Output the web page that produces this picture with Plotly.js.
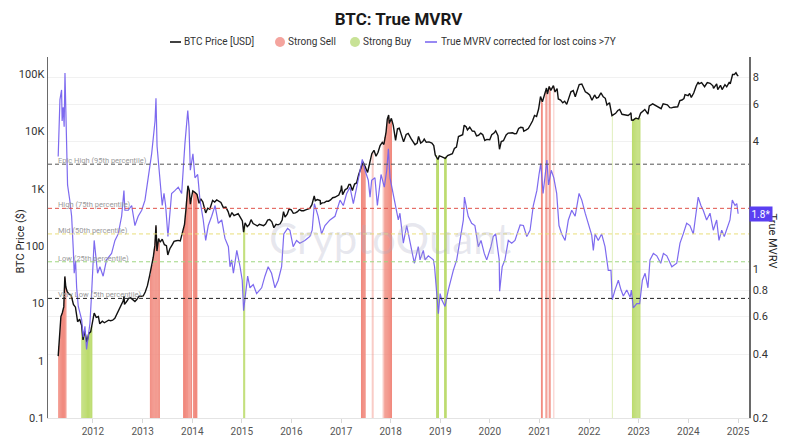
<!DOCTYPE html>
<html>
<head>
<meta charset="utf-8">
<script src="https://cdn.plot.ly/plotly-3.0.1.min.js"></script>
<style>
html,body{margin:0;padding:0;background:#fff;}
#chart{width:800px;height:438px;}
</style>
</head>
<body>
<div id="chart"></div>
<script>
// ---------------- DATA ----------------
const priceDates = ['2011-04-20','2011-05-01','2011-05-10','2011-05-20','2011-05-31','2011-06-08','2011-06-15','2011-06-25','2011-07-10','2011-07-25','2011-08-10','2011-08-25','2011-09-10','2011-09-25','2011-10-10','2011-10-20','2011-11-01','2011-11-18','2011-12-01','2011-12-15','2011-12-31',
'2012-01-10','2012-01-25','2012-02-10','2012-02-20','2012-03-10','2012-03-25','2012-04-10','2012-04-25','2012-05-10','2012-05-25','2012-06-10','2012-06-25','2012-07-10','2012-07-25','2012-08-10','2012-08-17','2012-08-20','2012-09-05','2012-09-20','2012-10-05','2012-10-20','2012-11-05','2012-11-20','2012-12-05','2012-12-20',
'2013-01-05','2013-01-20','2013-02-05','2013-02-20','2013-03-05','2013-03-20','2013-04-01','2013-04-09','2013-04-16','2013-04-28','2013-05-10','2013-05-25','2013-06-10','2013-06-25','2013-07-05','2013-07-20','2013-08-05','2013-08-20','2013-09-05','2013-09-20','2013-10-05','2013-10-20','2013-11-05','2013-11-15','2013-11-30','2013-12-10','2013-12-18','2013-12-25',
'2014-01-05','2014-01-20','2014-02-05','2014-02-20','2014-03-05','2014-03-20','2014-04-10','2014-04-25','2014-05-10','2014-05-31','2014-06-15','2014-06-30','2014-07-15','2014-07-31','2014-08-18','2014-09-05','2014-09-22','2014-10-05','2014-10-20','2014-11-05','2014-11-20','2014-12-05','2014-12-20',
'2015-01-05','2015-01-14','2015-01-25','2015-02-10','2015-02-25','2015-03-10','2015-03-25','2015-04-10','2015-04-25','2015-05-10','2015-05-25','2015-06-10','2015-06-25','2015-07-10','2015-07-25','2015-08-10','2015-08-25','2015-09-10','2015-09-25','2015-10-10','2015-10-25','2015-11-04','2015-11-15','2015-12-01','2015-12-15','2015-12-31',
'2016-01-15','2016-01-31','2016-02-15','2016-02-29','2016-03-15','2016-03-31','2016-04-15','2016-04-30','2016-05-15','2016-05-31','2016-06-17','2016-06-25','2016-07-10','2016-07-31','2016-08-02','2016-08-15','2016-08-31','2016-09-15','2016-09-30','2016-10-15','2016-10-31','2016-11-15','2016-11-30','2016-12-15','2016-12-31',
'2017-01-04','2017-01-12','2017-01-31','2017-02-15','2017-02-28','2017-03-10','2017-03-25','2017-04-10','2017-04-25','2017-05-10','2017-05-25','2017-06-11','2017-06-25','2017-07-15','2017-07-31','2017-08-15','2017-08-31','2017-09-15','2017-09-30','2017-10-15','2017-10-31','2017-11-12','2017-11-28','2017-12-07','2017-12-17','2017-12-22',
'2018-01-06','2018-01-20','2018-02-06','2018-02-20','2018-03-05','2018-03-20','2018-04-06','2018-04-25','2018-05-10','2018-05-31','2018-06-15','2018-06-29','2018-07-15','2018-07-25','2018-08-10','2018-08-25','2018-09-05','2018-09-20','2018-10-10','2018-10-31','2018-11-14','2018-11-25','2018-12-15','2018-12-25',
'2019-01-10','2019-01-31','2019-02-07','2019-02-24','2019-03-15','2019-03-31','2019-04-15','2019-04-30','2019-05-15','2019-05-31','2019-06-15','2019-06-26','2019-07-10','2019-07-20','2019-08-06','2019-08-25','2019-09-10','2019-09-25','2019-10-10','2019-10-26','2019-11-10','2019-11-25','2019-12-10','2019-12-31',
'2020-01-15','2020-02-01','2020-02-13','2020-03-01','2020-03-12','2020-03-25','2020-04-10','2020-04-30','2020-05-15','2020-05-31','2020-06-15','2020-06-30','2020-07-15','2020-07-31','2020-08-15','2020-08-31','2020-09-07','2020-09-25','2020-10-10','2020-10-25','2020-11-10','2020-11-25','2020-12-10','2020-12-25',
'2021-01-08','2021-01-22','2021-02-08','2021-02-21','2021-02-28','2021-03-13','2021-03-25','2021-04-13','2021-04-25','2021-05-10','2021-05-19','2021-06-05','2021-06-21','2021-07-05','2021-07-20','2021-08-05','2021-08-20','2021-09-06','2021-09-21','2021-10-05','2021-10-20','2021-11-08','2021-11-20','2021-12-04','2021-12-20',
'2022-01-05','2022-01-22','2022-02-10','2022-02-24','2022-03-10','2022-03-29','2022-04-15','2022-04-30','2022-05-12','2022-05-31','2022-06-18','2022-06-30','2022-07-15','2022-07-31','2022-08-14','2022-08-31','2022-09-15','2022-09-30','2022-10-15','2022-10-31','2022-11-05','2022-11-09','2022-11-21','2022-12-10','2022-12-31',
'2023-01-15','2023-01-31','2023-02-15','2023-03-10','2023-03-20','2023-04-14','2023-04-30','2023-05-15','2023-06-15','2023-06-30','2023-07-15','2023-07-31','2023-08-18','2023-08-31','2023-09-15','2023-09-30','2023-10-15','2023-10-31','2023-11-15','2023-11-30','2023-12-08','2023-12-31',
'2024-01-11','2024-01-23','2024-02-10','2024-02-28','2024-03-14','2024-03-20','2024-04-08','2024-04-30','2024-05-20','2024-06-10','2024-06-30','2024-07-05','2024-07-28','2024-08-05','2024-08-25','2024-09-06','2024-09-27','2024-10-10','2024-10-29','2024-11-05','2024-11-22','2024-12-05','2024-12-17','2024-12-30','2025-01-02'];
const priceValues = [1.2,3.0,5.9,6.8,8.7,29.6,19.5,16,14.5,13.8,9.6,8.6,4.8,5.3,4.1,2.3,3.3,2.1,3.0,3.2,4.7,
6.8,5.7,5.9,4.4,4.9,4.6,4.9,5.1,5.0,5.1,5.5,6.5,7.4,8.8,11.0,13.5,9.6,10.8,12.3,12.5,11.7,10.8,11.8,13.4,13.3,
13.5,15.8,20.4,29.6,40,64,104,230,82,135,117,132,106,102,70,90,104,121,124,126,123,170,240,420,1130,940,540,680,
920,870,800,560,670,590,380,460,440,630,590,640,620,580,470,480,400,320,385,340,355,370,320,
275,175,255,220,238,290,248,236,225,240,237,228,243,285,290,265,210,240,235,245,285,400,320,360,445,430,
375,380,400,435,415,415,430,450,455,530,750,620,650,625,545,570,575,607,608,640,700,712,745,780,965,
1135,790,970,1010,1190,1190,935,1210,1265,1760,2300,2950,2500,1930,2850,4100,4700,3700,4340,5700,6450,5950,9800,16500,19400,13800,
17000,12800,7000,11200,11500,8600,6600,8900,9300,7500,6500,5900,6300,8200,6300,6700,7400,6500,6600,6300,5700,3900,3250,3750,
3650,3440,3400,3800,3950,4100,5050,5350,8200,8550,8800,12900,12100,10700,11900,10200,10100,8400,8600,9400,8800,7000,7300,7200,
8800,9400,10300,8500,4900,6700,6900,8700,9400,9450,9500,9150,9200,11300,11850,11700,10100,10700,11300,13000,15300,19100,18300,24700,
40700,33000,46400,57500,45200,61200,52300,63500,49000,56000,37000,35500,31700,33800,29800,40900,49300,51800,40600,51500,65900,67500,59700,49400,46700,
43500,35100,43500,38300,39400,47400,40500,38000,29000,31800,19000,19800,20800,23300,24300,20000,19700,19400,19100,20500,21300,15900,15800,17100,16550,
20900,23100,24300,20200,28000,30500,29200,27200,25100,30500,30300,29200,26100,25900,26600,26900,27100,34600,35500,37700,44200,42300,
46300,39500,47100,62400,73100,67900,71600,60600,71400,69500,62700,56700,68200,54000,64100,53900,65800,60300,72700,67800,98900,98800,106000,93500,96500];

const mvrvDates = ['2011-04-20','2011-05-03','2011-05-15','2011-05-19','2011-05-27','2011-06-03','2011-06-09','2011-06-21','2011-06-28','2011-07-15','2011-07-28','2011-08-09','2011-08-16','2011-08-26','2011-09-03','2011-09-15','2011-10-10','2011-10-21','2011-11-03','2011-11-15','2011-11-27','2011-12-10','2011-12-22',
'2012-01-03','2012-01-10','2012-01-20','2012-02-04','2012-02-21','2012-03-16','2012-04-10','2012-05-17','2012-06-11','2012-07-05','2012-07-30','2012-08-16','2012-08-23','2012-09-17','2012-10-12','2012-11-05','2012-11-29','2012-12-25',
'2013-01-18','2013-02-12','2013-03-08','2013-04-02','2013-04-09','2013-04-17','2013-05-01','2013-05-13','2013-05-25','2013-06-07','2013-06-19','2013-07-06','2013-07-20','2013-08-02','2013-08-26','2013-09-20','2013-10-15','2013-10-27','2013-11-08','2013-11-29','2013-12-08','2013-12-18',
'2014-01-06','2014-01-21','2014-02-10','2014-02-27','2014-03-23','2014-04-10','2014-04-29','2014-05-24','2014-06-18','2014-07-12','2014-08-06','2014-08-30','2014-09-24','2014-10-06','2014-10-18','2014-10-31','2014-11-25','2014-12-19',
'2015-01-04','2015-01-14','2015-01-29','2015-02-13','2015-03-02','2015-03-26','2015-04-20','2015-05-27','2015-06-20','2015-07-14','2015-08-08','2015-09-02','2015-09-26','2015-10-21','2015-11-06','2015-12-04','2015-12-21',
'2016-01-14','2016-02-08','2016-03-03','2016-04-09','2016-05-16','2016-06-02','2016-06-18','2016-07-16','2016-08-10','2016-09-04','2016-10-11','2016-11-17','2016-12-24',
'2017-01-17','2017-02-11','2017-03-07','2017-04-01','2017-04-26','2017-05-20','2017-06-06','2017-06-26','2017-07-20','2017-08-02','2017-08-14','2017-09-07','2017-09-25','2017-10-22','2017-11-15','2017-12-03','2017-12-15','2017-12-27',
'2018-01-20','2018-02-07','2018-02-26','2018-03-10','2018-04-04','2018-04-29','2018-05-23','2018-06-24','2018-07-23','2018-08-05','2018-08-29','2018-09-11','2018-10-05','2018-11-11','2018-11-20','2018-12-06','2018-12-18','2018-12-31',
'2019-01-12','2019-02-05','2019-03-01','2019-04-07','2019-05-02','2019-05-26','2019-06-20','2019-06-28','2019-07-26','2019-08-20','2019-09-13','2019-10-08','2019-10-28','2019-11-21','2019-12-09',
'2020-01-09','2020-01-26','2020-02-13','2020-03-03','2020-03-10','2020-03-13','2020-04-01','2020-04-21','2020-05-16','2020-06-10','2020-07-04','2020-08-11','2020-09-04','2020-09-29','2020-10-23','2020-11-16','2020-12-12','2020-12-28',
'2021-01-10','2021-01-27','2021-02-14','2021-02-24','2021-03-08','2021-03-28','2021-04-16','2021-05-07','2021-05-24','2021-06-13','2021-07-08','2021-08-01','2021-08-26','2021-09-20','2021-10-19','2021-11-08','2021-12-03','2021-12-27',
'2022-01-20','2022-02-01','2022-02-14','2022-03-09','2022-04-03','2022-04-28','2022-05-22','2022-06-11','2022-06-20','2022-07-10','2022-08-04','2022-08-24','2022-09-10','2022-10-05','2022-10-30','2022-11-08','2022-11-22','2022-12-18',
'2023-01-08','2023-01-28','2023-02-17','2023-03-10','2023-03-25','2023-04-19','2023-05-14','2023-06-12','2023-07-02','2023-07-27','2023-09-02','2023-10-08','2023-11-01','2023-11-25','2023-12-20',
'2024-01-13','2024-02-07','2024-02-24','2024-03-14','2024-04-03','2024-04-20','2024-05-15','2024-06-09','2024-07-03','2024-07-28','2024-08-14','2024-09-03','2024-09-22','2024-10-17','2024-11-03','2024-11-20','2024-12-10','2024-12-23','2025-01-02'];
const mvrvValues = [3.4,6.3,7.0,5.0,5.8,4.7,8.4,3.27,2.5,2.1,1.78,1.25,0.96,1.1,0.82,0.67,0.58,0.48,0.54,0.42,0.50,0.56,0.77,
1.03,1.37,1.19,0.96,1.03,0.93,1.11,1.19,1.37,1.47,1.78,2.35,1.90,1.90,2.0,1.61,1.78,1.9,
2.12,2.7,3.5,5.0,6.4,3.8,2.93,2.44,2.0,2.28,2.0,1.43,1.9,2.28,2.35,2.44,2.28,3.03,3.9,5.6,4.7,2.93,
3.5,2.7,2.8,2.12,1.71,1.37,1.61,1.78,2.0,1.65,1.71,1.4,1.28,1.03,1.11,0.96,1.23,1.03,
0.89,0.64,0.77,0.93,0.82,0.85,0.77,0.82,0.93,1.03,0.96,0.82,0.89,1.03,1.47,1.56,1.53,
1.28,1.37,1.33,1.37,1.43,1.53,2.04,1.78,1.47,1.61,1.71,1.78,2.12,
2.0,2.28,2.44,2.04,2.44,2.93,3.3,2.93,2.63,2.19,2.63,2.7,2.0,2.8,2.44,2.93,3.7,2.7,
2.28,2.0,1.71,1.84,1.33,1.61,1.37,1.07,1.28,1.11,1.23,1.11,1.16,1.11,1.03,0.77,0.62,0.77,
0.72,0.67,0.80,0.99,1.11,1.37,1.71,2.19,1.78,1.65,1.61,1.28,1.37,1.19,1.11,
1.28,1.43,1.47,1.23,1.11,0.79,1.03,1.11,1.37,1.33,1.37,1.62,1.61,1.43,1.53,2.0,2.35,2.8,
3.15,2.28,2.8,3.27,2.5,2.93,2.7,2.28,1.61,1.47,1.37,1.71,1.9,1.78,2.28,2.12,1.84,1.63,
1.45,1.23,1.47,1.37,1.47,1.28,0.99,0.99,0.72,0.8,0.89,0.80,0.75,0.80,0.74,0.80,0.66,0.69,
0.69,0.89,0.96,0.82,1.11,1.19,1.16,1.07,1.19,1.16,1.03,1.07,1.33,1.47,1.65,
1.61,1.47,1.78,2.19,2.0,1.9,1.71,1.84,1.53,1.71,1.37,1.53,1.43,1.61,1.71,2.12,2.0,2.04,1.83];

// Strong Sell / Strong Buy days (bar height = BTC price on that day)
const sellDates = ['2011-04-24','2011-05-01','2011-05-08','2011-05-15','2011-05-22','2011-05-29','2011-06-05','2011-06-10','2011-06-16',
'2013-02-27','2013-03-06','2013-03-13','2013-03-20','2013-03-27','2013-04-03','2013-04-09','2013-04-15','2013-04-22','2013-04-29','2013-05-04',
'2013-10-29','2013-11-05','2013-11-12','2013-11-19','2013-11-26','2013-12-02','2013-12-09','2013-12-16','2013-12-23','2013-12-27',
'2014-01-11','2014-01-18','2014-01-25','2014-02-01','2014-02-04',
'2017-05-31','2017-06-07','2017-06-14','2017-06-21','2017-06-27',
'2017-11-19','2017-11-26','2017-12-03','2017-12-10','2017-12-17','2017-12-24','2017-12-31','2018-01-07',
'2021-01-15','2021-01-21','2021-02-17','2021-02-24','2021-03-13','2021-03-20'];
const sellHeights = [1.8,3.0,5.5,6.6,7.0,8.5,19,28,19,
31,42,47,64,88,130,215,90,120,135,115,
190,240,350,600,900,1080,940,700,640,700,
900,850,860,820,800,
2300,2800,2700,2650,2500,
8000,9500,11500,16000,19000,14000,14000,16500,
36800,32000,52000,49000,61000,58000];
const sellLightDates = ['2017-08-18','2017-08-25','2017-11-06','2017-11-12','2021-04-16'];
const sellLightHeights = [4300,4300,7000,6000,61000];

const buyDates = ['2011-10-11','2011-10-18','2011-10-25','2011-11-01','2011-11-08','2011-11-15','2011-11-22','2011-11-29','2011-12-06','2011-12-13','2011-12-20','2011-12-24',
'2015-01-15','2015-01-22',
'2018-12-05','2018-12-12','2018-12-19',
'2019-02-02','2019-02-09','2019-02-14',
'2022-11-16','2022-11-23','2022-11-30','2022-12-07','2022-12-14','2022-12-21','2022-12-28','2023-01-04','2023-01-10'];
const buyHeights = [4.0,2.5,3.2,3.3,2.9,2.4,2.3,2.8,3.0,3.2,3.9,4.0,
200,230,
3900,3400,3700,
3500,3650,3600,
16600,16200,17000,17000,17800,16800,16600,16800,17400];
const buyLightDates = ['2022-06-21'];
const buyLightHeights = [20500];

// Percentile reference lines (True MVRV)
const percentileNames = ['Epic High (95th percentile)','High (75th percentile)','Mid (50th percentile)','Low (25th percentile)','Very Low (5th percentile)'];
const percentileValues = [3.13, 1.94, 1.47, 1.087, 0.731];

const priceTickVals = [0.1,1,10,100,1000,10000,100000];
const priceTickText = ['0.1','1','10','100','1K','10K','100K'];
const mvrvTickVals = [0.2,0.4,0.6,0.8,1,4,6,8];
const mvrvTickText = ['0.2','0.4','0.6','0.8','1','4','6','8'];

const legendNames = ['BTC Price [USD]','Strong Sell','Strong Buy','True MVRV corrected for lost coins >7Y'];

// ---------------- STYLE ----------------
const percentileColors = ['#555555','#e0524a','#e9df7a','#9fd680','#222222'];
const FONT = 'Roboto, "Liberation Sans", Arial, sans-serif';
const DAY = 86400000;
const SELL = 'rgb(241,138,126)';
const BUY = 'rgb(187,219,108)';
const PRICE_C = '#111111';
const MVRV_C = 'rgba(118,98,238,0.95)';
const L = 48, PW = 701, PH = 361, PT = 57; // plot box in px
const px2x = p => (p - L) / PW;
const py2y = p => (PT + PH - p) / PH;

const traces = [
  {type:'bar', x:sellDates, y:sellHeights, yaxis:'y', width:7.5*DAY, marker:{color:SELL, line:{width:0}}, hoverinfo:'skip'},
  {type:'bar', x:sellLightDates, y:sellLightHeights, yaxis:'y', width:7.5*DAY, marker:{color:SELL, opacity:0.45, line:{width:0}}, hoverinfo:'skip'},
  {type:'bar', x:buyDates, y:buyHeights, yaxis:'y', width:7.5*DAY, marker:{color:BUY, line:{width:0}}, hoverinfo:'skip'},
  {type:'bar', x:buyLightDates, y:buyLightHeights, yaxis:'y', width:7.5*DAY, marker:{color:BUY, opacity:0.45, line:{width:0}}, hoverinfo:'skip'},
  {type:'scatter', mode:'lines', x:mvrvDates, y:mvrvValues, yaxis:'y2', name:legendNames[3], line:{color:MVRV_C, width:1.2}},
  {type:'scatter', mode:'lines', x:priceDates, y:priceValues, yaxis:'y', name:legendNames[0], line:{color:PRICE_C, width:1.4}}
];

const shapes = percentileValues.map((v,i)=>({
  type:'line', xref:'paper', x0:0, x1:1, yref:'y2', y0:v, y1:v, layer:'above',
  line:{color:percentileColors[i], width:1, dash:'4px,3px'}
}));

const annotations = percentileNames.map((t,i)=>({
  text:t, xref:'paper', x:0.012, xanchor:'left', yref:'y2', y:Math.log10(percentileValues[i]), yanchor:'bottom', yshift:-3,
  showarrow:false, font:{family:FONT, size:7.5, color:'#9a9a9a'}
}));
annotations.push({
  text:'CryptoQuant', xref:'paper', yref:'paper', x:0.488, y:0.5, showarrow:false,
  font:{family:'Lato, "Open Sans", sans-serif', size:42, color:'rgba(170,172,195,0.28)'}
});
annotations.push({
  text:'BTC Price ($)', xref:'paper', yref:'paper', x:px2x(12), y:0.49, textangle:-90, showarrow:false,
  font:{family:FONT, size:11, color:'#222'}
});
annotations.push({
  text:'True MVRV', xref:'paper', yref:'paper', x:px2x(781), y:0.49, textangle:90, showarrow:false,
  font:{family:FONT, size:11, color:'#222'}
});
const lastMvrv = mvrvValues[mvrvValues.length-1];
annotations.push({
  text:lastMvrv.toFixed(1)+'*', xref:'paper', x:1.0, xanchor:'left', yref:'y2', y:Math.log10(lastMvrv), yanchor:'middle',
  showarrow:false, bgcolor:'#5a3ff2', borderpad:1.5, font:{family:FONT, size:10, color:'#ffffff'}
});

// ---- custom legend (layout elements, paper coordinates) ----
const legY = py2y(42);
shapes.push({type:'line', xref:'paper', yref:'paper', x0:px2x(170), x1:px2x(181), y0:legY, y1:legY, line:{color:PRICE_C, width:1.6}});
shapes.push({type:'line', xref:'paper', yref:'paper', x0:px2x(425), x1:px2x(437), y0:legY, y1:legY, line:{color:MVRV_C, width:1.6}});
[[280,'rgb(244,164,158)'],[355,'rgb(200,226,150)']].forEach(([cx,c])=>{
  shapes.push({type:'circle', xref:'paper', yref:'paper', xsizemode:'pixel', ysizemode:'pixel',
    xanchor:px2x(cx), yanchor:legY, x0:-5, x1:5, y0:-5, y1:5, fillcolor:c, line:{width:0}});
});
[[183,0],[287,1],[362,2],[440,3]].forEach(([lx,i])=>{
  annotations.push({text:legendNames[i], xref:'paper', yref:'paper', x:px2x(lx), y:legY, xanchor:'left', yanchor:'middle',
    showarrow:false, borderpad:0, font:{family:FONT, size:10, color:'#333'}});
});

const layout = {
  width:800, height:438,
  margin:{l:L, r:800-L-PW, t:PT, b:438-PT-PH, pad:0},
  paper_bgcolor:'#ffffff', plot_bgcolor:'#ffffff',
  font:{family:FONT, color:'#333'},
  title:{text:'<b>BTC: True MVRV</b>', x:0.5, xanchor:'center', xref:'paper', y:0.957, yref:'container', yanchor:'middle',
         font:{family:FONT, size:17, color:'#1a1a1a'}},
  barmode:'overlay',
  showlegend:false,
  xaxis:{type:'date', range:['2011-02-04','2025-03-23'], showgrid:false, zeroline:false,
         tick0:'2012-01-01', dtick:'M12', tickformat:'%Y', ticks:'outside', ticklen:4, tickcolor:'#d8d8d8',
         showline:true, linecolor:'#e4e4e4', linewidth:1, tickfont:{family:FONT, size:10, color:'#555'}},
  yaxis:{type:'log', range:[-1, Math.log10(200000)], tickvals:priceTickVals, ticktext:priceTickText,
         showgrid:false, zeroline:false, showline:true, linecolor:'#6a6a6a', linewidth:1.5, ticks:'',
         tickfont:{family:FONT, size:11, color:'#333'}},
  yaxis2:{type:'log', overlaying:'y', side:'right', range:[Math.log10(0.2), 1], tickvals:mvrvTickVals, ticktext:mvrvTickText,
          showgrid:true, gridcolor:'#f1f1f1', gridwidth:1, zeroline:false, showline:true, linecolor:'#6a6a6a', linewidth:1.5, ticks:'',
          tickfont:{family:FONT, size:11, color:'#333'}},
  shapes:shapes,
  annotations:annotations
};

Plotly.newPlot('chart', traces, layout, {displayModeBar:false, staticPlot:true});
</script>
</body>
</html>
